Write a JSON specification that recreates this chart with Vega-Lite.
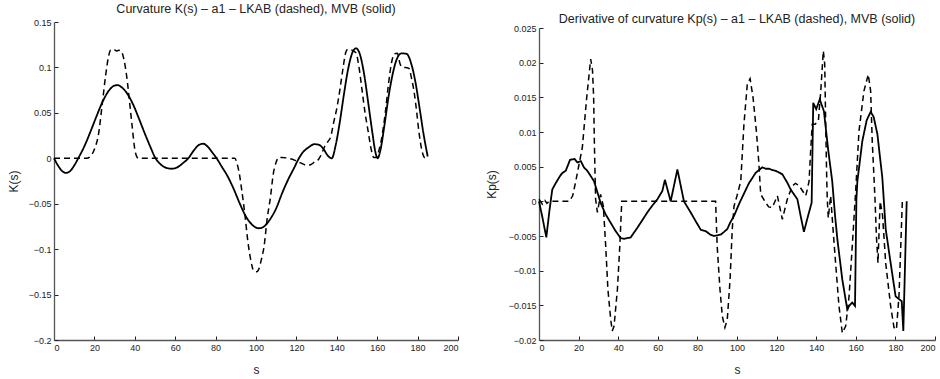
{
  "$schema": "https://vega.github.io/schema/vega-lite/v6.json",
  "padding": {"left": 7, "top": 2, "right": 0, "bottom": 0},
  "background": "white",
  "spacing": 81,
  "bounds": "flush",
  "config": {
    "font": "Liberation Sans",
    "view": {"stroke": null},
    "axis": {"grid": false, "domainColor": "#555555", "domainWidth": 1.3, "tickColor": "#222222", "tickSize": -4, "tickWidth": 1, "labelFontSize": 9, "labelColor": "#222222", "titleFontSize": 12, "titleFontWeight": "normal", "titleColor": "#222222", "labelFont": "Liberation Sans", "titleFont": "Liberation Sans"},
    "title": {"fontSize": 12.5, "fontWeight": "normal", "color": "#222222", "font": "Liberation Sans"}
  },
  "hconcat": [
    {
      "width": 404,
      "height": 318,
      "title": {"text": "Curvature K(s) – a1 – LKAB (dashed), MVB (solid)", "frame": "group", "offset": 3},
      "data": {"values": [
        {"series": "MVB", "s": 0, "k": 0}, {"series": "MVB", "s": 2, "k": -0.008}, {"series": "MVB", "s": 4, "k": -0.014}, {"series": "MVB", "s": 6, "k": -0.016}, {"series": "MVB", "s": 8, "k": -0.014}, {"series": "MVB", "s": 10, "k": -0.008}, {"series": "MVB", "s": 12, "k": 0}, {"series": "MVB", "s": 15, "k": 0.013}, {"series": "MVB", "s": 18, "k": 0.029}, {"series": "MVB", "s": 21, "k": 0.046}, {"series": "MVB", "s": 24, "k": 0.062}, {"series": "MVB", "s": 27, "k": 0.074}, {"series": "MVB", "s": 30, "k": 0.08}, {"series": "MVB", "s": 31.5, "k": 0.0805}, {"series": "MVB", "s": 33, "k": 0.079}, {"series": "MVB", "s": 36, "k": 0.072}, {"series": "MVB", "s": 39, "k": 0.06}, {"series": "MVB", "s": 42, "k": 0.044}, {"series": "MVB", "s": 45, "k": 0.027}, {"series": "MVB", "s": 48, "k": 0.011}, {"series": "MVB", "s": 50, "k": 0.001}, {"series": "MVB", "s": 52, "k": -0.005}, {"series": "MVB", "s": 55, "k": -0.01}, {"series": "MVB", "s": 58, "k": -0.0115}, {"series": "MVB", "s": 61, "k": -0.01}, {"series": "MVB", "s": 64, "k": -0.005}, {"series": "MVB", "s": 66.5, "k": 0}, {"series": "MVB", "s": 69, "k": 0.008}, {"series": "MVB", "s": 72, "k": 0.015}, {"series": "MVB", "s": 74, "k": 0.016}, {"series": "MVB", "s": 76, "k": 0.013}, {"series": "MVB", "s": 78.5, "k": 0.006}, {"series": "MVB", "s": 80.5, "k": 0}, {"series": "MVB", "s": 83, "k": -0.009}, {"series": "MVB", "s": 86, "k": -0.02}, {"series": "MVB", "s": 89, "k": -0.034}, {"series": "MVB", "s": 92, "k": -0.05}, {"series": "MVB", "s": 95, "k": -0.064}, {"series": "MVB", "s": 98, "k": -0.073}, {"series": "MVB", "s": 101.5, "k": -0.077}, {"series": "MVB", "s": 104, "k": -0.075}, {"series": "MVB", "s": 107, "k": -0.067}, {"series": "MVB", "s": 110, "k": -0.055}, {"series": "MVB", "s": 113, "k": -0.038}, {"series": "MVB", "s": 116, "k": -0.023}, {"series": "MVB", "s": 119, "k": -0.01}, {"series": "MVB", "s": 121, "k": -0.001}, {"series": "MVB", "s": 123, "k": 0.006}, {"series": "MVB", "s": 126, "k": 0.012}, {"series": "MVB", "s": 129, "k": 0.0155}, {"series": "MVB", "s": 131, "k": 0.015}, {"series": "MVB", "s": 133.5, "k": 0.01}, {"series": "MVB", "s": 135.5, "k": 0.003}, {"series": "MVB", "s": 137.5, "k": 0}, {"series": "MVB", "s": 139.5, "k": 0.015}, {"series": "MVB", "s": 141.5, "k": 0.04}, {"series": "MVB", "s": 143.5, "k": 0.07}, {"series": "MVB", "s": 145.5, "k": 0.097}, {"series": "MVB", "s": 147.5, "k": 0.115}, {"series": "MVB", "s": 149.5, "k": 0.121}, {"series": "MVB", "s": 151.5, "k": 0.114}, {"series": "MVB", "s": 153.5, "k": 0.093}, {"series": "MVB", "s": 155.5, "k": 0.062}, {"series": "MVB", "s": 157.5, "k": 0.03}, {"series": "MVB", "s": 159, "k": 0.008}, {"series": "MVB", "s": 160.2, "k": 0}, {"series": "MVB", "s": 161.5, "k": 0.008}, {"series": "MVB", "s": 163.5, "k": 0.035}, {"series": "MVB", "s": 165.5, "k": 0.066}, {"series": "MVB", "s": 167.5, "k": 0.091}, {"series": "MVB", "s": 169.5, "k": 0.108}, {"series": "MVB", "s": 172, "k": 0.1155}, {"series": "MVB", "s": 174.5, "k": 0.115}, {"series": "MVB", "s": 177, "k": 0.103}, {"series": "MVB", "s": 179, "k": 0.083}, {"series": "MVB", "s": 181, "k": 0.055}, {"series": "MVB", "s": 183, "k": 0.026}, {"series": "MVB", "s": 185, "k": 0.002},
        {"series": "LKAB", "s": 0, "k": 0}, {"series": "LKAB", "s": 16, "k": 0}, {"series": "LKAB", "s": 18, "k": 0.002}, {"series": "LKAB", "s": 20, "k": 0.01}, {"series": "LKAB", "s": 22, "k": 0.026}, {"series": "LKAB", "s": 24, "k": 0.062}, {"series": "LKAB", "s": 25.5, "k": 0.09}, {"series": "LKAB", "s": 27, "k": 0.112}, {"series": "LKAB", "s": 28, "k": 0.119}, {"series": "LKAB", "s": 29.5, "k": 0.12}, {"series": "LKAB", "s": 31, "k": 0.118}, {"series": "LKAB", "s": 32, "k": 0.119}, {"series": "LKAB", "s": 33.5, "k": 0.117}, {"series": "LKAB", "s": 34.5, "k": 0.11}, {"series": "LKAB", "s": 36, "k": 0.09}, {"series": "LKAB", "s": 37.5, "k": 0.06}, {"series": "LKAB", "s": 38.7, "k": 0.035}, {"series": "LKAB", "s": 40, "k": 0.01}, {"series": "LKAB", "s": 41.2, "k": 0.001}, {"series": "LKAB", "s": 42, "k": 0}, {"series": "LKAB", "s": 89.5, "k": 0}, {"series": "LKAB", "s": 90.5, "k": -0.005}, {"series": "LKAB", "s": 91.5, "k": -0.014}, {"series": "LKAB", "s": 93, "k": -0.036}, {"series": "LKAB", "s": 94.5, "k": -0.062}, {"series": "LKAB", "s": 96, "k": -0.092}, {"series": "LKAB", "s": 97.5, "k": -0.113}, {"series": "LKAB", "s": 98.9, "k": -0.124}, {"series": "LKAB", "s": 100.3, "k": -0.125}, {"series": "LKAB", "s": 101.4, "k": -0.122}, {"series": "LKAB", "s": 102.8, "k": -0.11}, {"series": "LKAB", "s": 104, "k": -0.097}, {"series": "LKAB", "s": 105.5, "k": -0.067}, {"series": "LKAB", "s": 107.2, "k": -0.042}, {"series": "LKAB", "s": 108.5, "k": -0.018}, {"series": "LKAB", "s": 110, "k": -0.004}, {"series": "LKAB", "s": 111.3, "k": 0.001}, {"series": "LKAB", "s": 113, "k": 0.001}, {"series": "LKAB", "s": 116, "k": 0}, {"series": "LKAB", "s": 119, "k": -0.002}, {"series": "LKAB", "s": 122, "k": -0.005}, {"series": "LKAB", "s": 125, "k": -0.0075}, {"series": "LKAB", "s": 127, "k": -0.007}, {"series": "LKAB", "s": 129, "k": -0.004}, {"series": "LKAB", "s": 131, "k": -0.001}, {"series": "LKAB", "s": 132.5, "k": 0.005}, {"series": "LKAB", "s": 134, "k": 0.013}, {"series": "LKAB", "s": 135.5, "k": 0.018}, {"series": "LKAB", "s": 137, "k": 0.024}, {"series": "LKAB", "s": 138.5, "k": 0.04}, {"series": "LKAB", "s": 140, "k": 0.055}, {"series": "LKAB", "s": 141.5, "k": 0.075}, {"series": "LKAB", "s": 143, "k": 0.098}, {"series": "LKAB", "s": 144.5, "k": 0.117}, {"series": "LKAB", "s": 145.5, "k": 0.12}, {"series": "LKAB", "s": 147.5, "k": 0.119}, {"series": "LKAB", "s": 149.5, "k": 0.116}, {"series": "LKAB", "s": 151, "k": 0.1}, {"series": "LKAB", "s": 152.5, "k": 0.075}, {"series": "LKAB", "s": 154, "k": 0.05}, {"series": "LKAB", "s": 155.5, "k": 0.03}, {"series": "LKAB", "s": 157, "k": 0.01}, {"series": "LKAB", "s": 158.3, "k": 0.001}, {"series": "LKAB", "s": 159.5, "k": 0.001}, {"series": "LKAB", "s": 161, "k": 0.01}, {"series": "LKAB", "s": 162.5, "k": 0.026}, {"series": "LKAB", "s": 164, "k": 0.05}, {"series": "LKAB", "s": 165.5, "k": 0.08}, {"series": "LKAB", "s": 167, "k": 0.104}, {"series": "LKAB", "s": 168.6, "k": 0.115}, {"series": "LKAB", "s": 170, "k": 0.1155}, {"series": "LKAB", "s": 171.3, "k": 0.104}, {"series": "LKAB", "s": 172.5, "k": 0.1}, {"series": "LKAB", "s": 174, "k": 0.1}, {"series": "LKAB", "s": 175.7, "k": 0.099}, {"series": "LKAB", "s": 177, "k": 0.088}, {"series": "LKAB", "s": 178.2, "k": 0.074}, {"series": "LKAB", "s": 179.5, "k": 0.052}, {"series": "LKAB", "s": 180.6, "k": 0.03}, {"series": "LKAB", "s": 182, "k": 0.01}, {"series": "LKAB", "s": 183.3, "k": 0.001}, {"series": "LKAB", "s": 184.4, "k": 0}
      ]},
      "mark": {"type": "line", "interpolate": "monotone", "color": "black"},
      "encoding": {
        "x": {"field": "s", "type": "quantitative", "scale": {"domain": [0, 200], "nice": false}, "axis": {"values": [0, 20, 40, 60, 80, 100, 120, 140, 160, 180, 200], "title": "s", "labelPadding": 7, "titlePadding": 12}},
        "y": {"field": "k", "type": "quantitative", "scale": {"domain": [-0.2, 0.15], "nice": false}, "axis": {"values": [-0.2, -0.15, -0.1, -0.05, 0, 0.05, 0.1, 0.15], "format": ".2~f", "title": "K(s)", "labelPadding": 7, "titlePadding": 8}},
        "strokeDash": {"field": "series", "type": "nominal", "scale": {"domain": ["LKAB", "MVB"], "range": [[6, 4], [1, 0]]}, "legend": null},
        "strokeWidth": {"field": "series", "type": "nominal", "scale": {"domain": ["LKAB", "MVB"], "range": [1.5, 1.8]}, "legend": null}
      }
    },
    {
      "width": 396,
      "height": 318,
      "title": {"text": "Derivative of curvature Kp(s) – a1 – LKAB (dashed), MVB (solid)", "frame": "group", "offset": -3},
      "data": {"values": [
        {"series": "MVB", "s": 0, "k": 0}, {"series": "MVB", "s": 1.5, "k": -0.002}, {"series": "MVB", "s": 3.7, "k": -0.0052}, {"series": "MVB", "s": 5.2, "k": -0.0015}, {"series": "MVB", "s": 6.7, "k": 0.0017}, {"series": "MVB", "s": 8.4, "k": 0.0026}, {"series": "MVB", "s": 10.5, "k": 0.0036}, {"series": "MVB", "s": 11.8, "k": 0.0041}, {"series": "MVB", "s": 13.5, "k": 0.0044}, {"series": "MVB", "s": 15.7, "k": 0.006}, {"series": "MVB", "s": 18, "k": 0.0061}, {"series": "MVB", "s": 19.4, "k": 0.0056}, {"series": "MVB", "s": 21.1, "k": 0.0058}, {"series": "MVB", "s": 22.7, "k": 0.0049}, {"series": "MVB", "s": 24.4, "k": 0.0044}, {"series": "MVB", "s": 26, "k": 0.0037}, {"series": "MVB", "s": 27.8, "k": 0.0029}, {"series": "MVB", "s": 31.1, "k": -0.0002}, {"series": "MVB", "s": 33.5, "k": -0.0018}, {"series": "MVB", "s": 36.2, "k": -0.0031}, {"series": "MVB", "s": 38.5, "k": -0.0042}, {"series": "MVB", "s": 41.2, "k": -0.0053}, {"series": "MVB", "s": 43, "k": -0.0054}, {"series": "MVB", "s": 46.3, "k": -0.0052}, {"series": "MVB", "s": 48, "k": -0.0045}, {"series": "MVB", "s": 49.7, "k": -0.0038}, {"series": "MVB", "s": 52, "k": -0.0028}, {"series": "MVB", "s": 54.7, "k": -0.0016}, {"series": "MVB", "s": 57, "k": -0.0007}, {"series": "MVB", "s": 59.8, "k": 0.0003}, {"series": "MVB", "s": 62.3, "k": 0.0015}, {"series": "MVB", "s": 63.6, "k": 0.0031}, {"series": "MVB", "s": 66.5, "k": 0}, {"series": "MVB", "s": 69.9, "k": 0.0046}, {"series": "MVB", "s": 73.2, "k": 0}, {"series": "MVB", "s": 76.6, "k": -0.0016}, {"series": "MVB", "s": 79, "k": -0.0028}, {"series": "MVB", "s": 81.7, "k": -0.0041}, {"series": "MVB", "s": 84.2, "k": -0.0043}, {"series": "MVB", "s": 86.5, "k": -0.0048}, {"series": "MVB", "s": 88.4, "k": -0.005}, {"series": "MVB", "s": 90, "k": -0.0049}, {"series": "MVB", "s": 91.8, "k": -0.0048}, {"series": "MVB", "s": 93.5, "k": -0.0044}, {"series": "MVB", "s": 95.1, "k": -0.004}, {"series": "MVB", "s": 96.5, "k": -0.0031}, {"series": "MVB", "s": 98.5, "k": -0.0021}, {"series": "MVB", "s": 101, "k": -0.0004}, {"series": "MVB", "s": 103.5, "k": 0.0011}, {"series": "MVB", "s": 106, "k": 0.0026}, {"series": "MVB", "s": 109.4, "k": 0.0041}, {"series": "MVB", "s": 111, "k": 0.0045}, {"series": "MVB", "s": 112.8, "k": 0.0049}, {"series": "MVB", "s": 114.5, "k": 0.0047}, {"series": "MVB", "s": 116.2, "k": 0.0047}, {"series": "MVB", "s": 118, "k": 0.0045}, {"series": "MVB", "s": 119.5, "k": 0.0044}, {"series": "MVB", "s": 121, "k": 0.0042}, {"series": "MVB", "s": 122.9, "k": 0.0039}, {"series": "MVB", "s": 125.4, "k": 0.0027}, {"series": "MVB", "s": 127.1, "k": 0.0017}, {"series": "MVB", "s": 130.5, "k": 0.0003}, {"series": "MVB", "s": 132, "k": -0.0019}, {"series": "MVB", "s": 133.8, "k": -0.0044}, {"series": "MVB", "s": 135.5, "k": -0.0025}, {"series": "MVB", "s": 137.7, "k": -0.0002}, {"series": "MVB", "s": 138.5, "k": 0.0142}, {"series": "MVB", "s": 140, "k": 0.0133}, {"series": "MVB", "s": 141.8, "k": 0.0147}, {"series": "MVB", "s": 143.9, "k": 0.013}, {"series": "MVB", "s": 146.1, "k": 0.0073}, {"series": "MVB", "s": 148.1, "k": 0.0029}, {"series": "MVB", "s": 149.5, "k": -0.002}, {"series": "MVB", "s": 150.7, "k": -0.0055}, {"series": "MVB", "s": 153.2, "k": -0.0113}, {"series": "MVB", "s": 155.7, "k": -0.0156}, {"series": "MVB", "s": 156.6, "k": -0.0151}, {"series": "MVB", "s": 158.2, "k": -0.0146}, {"series": "MVB", "s": 159.6, "k": -0.0151}, {"series": "MVB", "s": 160.3, "k": 0.0003}, {"series": "MVB", "s": 160.8, "k": 0.0029}, {"series": "MVB", "s": 163.3, "k": 0.0087}, {"series": "MVB", "s": 165.5, "k": 0.0117}, {"series": "MVB", "s": 167.5, "k": 0.0129}, {"series": "MVB", "s": 169, "k": 0.0122}, {"series": "MVB", "s": 170.9, "k": 0.0097}, {"series": "MVB", "s": 173.4, "k": 0.0034}, {"series": "MVB", "s": 175.1, "k": -0.004}, {"series": "MVB", "s": 177.6, "k": -0.0089}, {"series": "MVB", "s": 180.1, "k": -0.0137}, {"series": "MVB", "s": 181.8, "k": -0.0141}, {"series": "MVB", "s": 183.2, "k": -0.0144}, {"series": "MVB", "s": 184, "k": -0.0187}, {"series": "MVB", "s": 185.7, "k": 0},
        {"series": "LKAB", "s": 0, "k": 0.0003}, {"series": "LKAB", "s": 1.7, "k": -0.0004}, {"series": "LKAB", "s": 3, "k": 0.0001}, {"series": "LKAB", "s": 4, "k": -0.0003}, {"series": "LKAB", "s": 5, "k": 0}, {"series": "LKAB", "s": 15.2, "k": 0}, {"series": "LKAB", "s": 17, "k": 0.0008}, {"series": "LKAB", "s": 18.5, "k": 0.0028}, {"series": "LKAB", "s": 21.9, "k": 0.0078}, {"series": "LKAB", "s": 24.1, "k": 0.015}, {"series": "LKAB", "s": 26.1, "k": 0.0205}, {"series": "LKAB", "s": 27, "k": 0.019}, {"series": "LKAB", "s": 27.6, "k": 0.015}, {"series": "LKAB", "s": 27.9, "k": 0.0095}, {"series": "LKAB", "s": 28.3, "k": 0.0039}, {"series": "LKAB", "s": 28.6, "k": 0.0003}, {"series": "LKAB", "s": 29.5, "k": -0.0016}, {"series": "LKAB", "s": 31.1, "k": 0.001}, {"series": "LKAB", "s": 32.5, "k": -0.0007}, {"series": "LKAB", "s": 33.7, "k": -0.0065}, {"series": "LKAB", "s": 34.8, "k": -0.0127}, {"series": "LKAB", "s": 36.2, "k": -0.017}, {"series": "LKAB", "s": 37, "k": -0.0187}, {"series": "LKAB", "s": 37.9, "k": -0.018}, {"series": "LKAB", "s": 39.6, "k": -0.0127}, {"series": "LKAB", "s": 40.8, "k": -0.0065}, {"series": "LKAB", "s": 41.8, "k": 0}, {"series": "LKAB", "s": 89.2, "k": 0}, {"series": "LKAB", "s": 90, "k": -0.0065}, {"series": "LKAB", "s": 91.4, "k": -0.0127}, {"series": "LKAB", "s": 92.6, "k": -0.0166}, {"series": "LKAB", "s": 93.9, "k": -0.0182}, {"series": "LKAB", "s": 95.1, "k": -0.017}, {"series": "LKAB", "s": 96.5, "k": -0.0113}, {"series": "LKAB", "s": 97.6, "k": -0.004}, {"series": "LKAB", "s": 98.5, "k": -0.0007}, {"series": "LKAB", "s": 100, "k": 0.0008}, {"series": "LKAB", "s": 101.9, "k": 0.0029}, {"series": "LKAB", "s": 103.5, "k": 0.0111}, {"series": "LKAB", "s": 105.2, "k": 0.0169}, {"series": "LKAB", "s": 106.6, "k": 0.0177}, {"series": "LKAB", "s": 108.1, "k": 0.015}, {"series": "LKAB", "s": 109.8, "k": 0.0101}, {"series": "LKAB", "s": 111.1, "k": 0.0053}, {"series": "LKAB", "s": 111.6, "k": 0.0027}, {"series": "LKAB", "s": 112, "k": 0.001}, {"series": "LKAB", "s": 114.5, "k": -0.0002}, {"series": "LKAB", "s": 116, "k": -0.0008}, {"series": "LKAB", "s": 117.8, "k": -0.0009}, {"series": "LKAB", "s": 120.4, "k": 0.0008}, {"series": "LKAB", "s": 122.9, "k": -0.0026}, {"series": "LKAB", "s": 125.4, "k": 0.0003}, {"series": "LKAB", "s": 127.9, "k": 0.0022}, {"series": "LKAB", "s": 129.5, "k": 0.0026}, {"series": "LKAB", "s": 131.3, "k": 0.0023}, {"series": "LKAB", "s": 134.7, "k": 0.0008}, {"series": "LKAB", "s": 135.5, "k": 0.0017}, {"series": "LKAB", "s": 136.4, "k": 0.0029}, {"series": "LKAB", "s": 137.2, "k": 0.0073}, {"series": "LKAB", "s": 138, "k": 0.0111}, {"series": "LKAB", "s": 139.4, "k": 0.0111}, {"series": "LKAB", "s": 141.1, "k": 0.0116}, {"series": "LKAB", "s": 142.3, "k": 0.0159}, {"series": "LKAB", "s": 143.6, "k": 0.0217}, {"series": "LKAB", "s": 144.3, "k": 0.0198}, {"series": "LKAB", "s": 144.8, "k": 0.0111}, {"series": "LKAB", "s": 145.3, "k": 0.0034}, {"series": "LKAB", "s": 145.6, "k": 0.0003}, {"series": "LKAB", "s": 146.1, "k": -0.0024}, {"series": "LKAB", "s": 147.3, "k": 0.0008}, {"series": "LKAB", "s": 148.5, "k": -0.004}, {"series": "LKAB", "s": 149.8, "k": -0.0089}, {"series": "LKAB", "s": 151.5, "k": -0.0151}, {"series": "LKAB", "s": 153.2, "k": -0.019}, {"series": "LKAB", "s": 154.9, "k": -0.018}, {"series": "LKAB", "s": 156.6, "k": -0.0137}, {"series": "LKAB", "s": 158.2, "k": -0.0065}, {"series": "LKAB", "s": 159.9, "k": 0.0013}, {"series": "LKAB", "s": 161.6, "k": 0.0101}, {"series": "LKAB", "s": 164.1, "k": 0.0159}, {"series": "LKAB", "s": 166.3, "k": 0.0183}, {"series": "LKAB", "s": 167.5, "k": 0.0159}, {"series": "LKAB", "s": 168.3, "k": 0.0087}, {"series": "LKAB", "s": 169.2, "k": 0.0034}, {"series": "LKAB", "s": 169.7, "k": 0.0003}, {"series": "LKAB", "s": 170.4, "k": -0.005}, {"series": "LKAB", "s": 171.2, "k": -0.0089}, {"series": "LKAB", "s": 172.3, "k": 0}, {"series": "LKAB", "s": 173.5, "k": -0.002}, {"series": "LKAB", "s": 175.1, "k": -0.0089}, {"series": "LKAB", "s": 177.6, "k": -0.0151}, {"series": "LKAB", "s": 179.3, "k": -0.0182}, {"series": "LKAB", "s": 180.5, "k": -0.0185}, {"series": "LKAB", "s": 181.8, "k": -0.0137}, {"series": "LKAB", "s": 182.7, "k": -0.0065}, {"series": "LKAB", "s": 183.5, "k": 0}
      ]},
      "mark": {"type": "line", "interpolate": "linear", "color": "black"},
      "encoding": {
        "x": {"field": "s", "type": "quantitative", "scale": {"domain": [0, 200], "nice": false}, "axis": {"values": [0, 20, 40, 60, 80, 100, 120, 140, 160, 180, 200], "title": "s", "labelPadding": 7, "titlePadding": 12}},
        "y": {"field": "k", "type": "quantitative", "scale": {"domain": [-0.02, 0.025], "nice": false, "range": [318, 6]}, "axis": {"values": [-0.02, -0.015, -0.01, -0.005, 0, 0.005, 0.01, 0.015, 0.02, 0.025], "format": ".3~f", "title": "Kp(s)", "labelPadding": 7, "titlePadding": 10}},
        "strokeDash": {"field": "series", "type": "nominal", "scale": {"domain": ["LKAB", "MVB"], "range": [[6, 4], [1, 0]]}, "legend": null},
        "strokeWidth": {"field": "series", "type": "nominal", "scale": {"domain": ["LKAB", "MVB"], "range": [1.5, 1.6]}, "legend": null}
      }
    }
  ]
}
